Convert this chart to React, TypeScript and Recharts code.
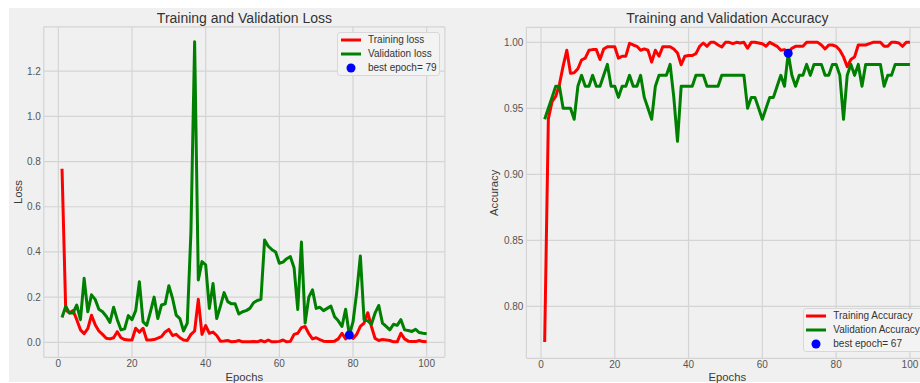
import React from 'react';
import { ComposedChart, Line, XAxis, YAxis, CartesianGrid, Legend, Label } from 'recharts';

const epochs: number[] = Array.from({ length: 100 }, (_, i) => i + 1);

const trainLoss = [
  0.768, 0.143, 0.13, 0.14, 0.1, 0.055, 0.038, 0.06, 0.12, 0.078,
  0.05, 0.035, 0.018, 0.015, 0.02, 0.047, 0.02, 0.012, 0.01, 0.01,
  0.062, 0.045, 0.062, 0.01, 0.01, 0.012, 0.018, 0.025, 0.046, 0.057,
  0.03, 0.035, 0.02, 0.01, 0.008, 0.035, 0.05, 0.19, 0.035, 0.074,
  0.04, 0.045, 0.03, 0.005, 0.006, 0.008, 0.002, 0.003, 0.008, 0.002,
  0.002, 0.002, 0.003, 0.002, 0.008, 0.002, 0.01, 0.002, 0.002, 0.004,
  0.01, 0.002, 0.004, 0.035, 0.04, 0.065, 0.07, 0.038, 0.015, 0.02,
  0.012, 0.005, 0.003, 0.003, 0.005, 0.015, 0.04, 0.015, 0.03, 0.017,
  0.035, 0.07, 0.085, 0.131, 0.07, 0.017, 0.008, 0.012, 0.01, 0.008,
  0.002, 0.002, 0.04, 0.015, 0.005, 0.003, 0.003, 0.008, 0.003, 0.002,
];

const valLoss = [
  0.11, 0.16, 0.13, 0.13, 0.165, 0.1, 0.283, 0.135, 0.21, 0.19,
  0.146, 0.135, 0.115, 0.088, 0.155, 0.1, 0.055, 0.06, 0.118, 0.1,
  0.14, 0.268, 0.09, 0.075, 0.135, 0.2, 0.105, 0.165, 0.17, 0.25,
  0.195, 0.12, 0.105, 0.05, 0.085, 0.49, 1.33, 0.276, 0.357, 0.343,
  0.15, 0.26, 0.105, 0.16, 0.22, 0.18, 0.17, 0.17, 0.125, 0.135,
  0.14, 0.15, 0.175, 0.185, 0.19, 0.453, 0.425, 0.41, 0.4, 0.35,
  0.355, 0.37, 0.379, 0.33, 0.145, 0.444, 0.085, 0.2, 0.232, 0.15,
  0.155, 0.14, 0.15, 0.16, 0.113, 0.095, 0.07, 0.146, 0.032, 0.09,
  0.22, 0.382, 0.1, 0.095, 0.08, 0.13, 0.163, 0.085, 0.07, 0.055,
  0.08, 0.075, 0.1, 0.055, 0.052, 0.048, 0.057, 0.043, 0.04, 0.038,
];

const trainAcc = [
  0.773, 0.942, 0.955, 0.959, 0.968, 0.982, 0.994, 0.9765, 0.977, 0.98,
  0.9866, 0.988, 0.994, 0.9945, 0.9945, 0.987, 0.995, 0.9967, 0.9967, 0.9967,
  0.988, 0.9895, 0.9895, 0.9992, 0.998, 0.997, 0.994, 0.995, 0.994, 0.985,
  0.994, 0.9895, 0.9967, 0.9967, 0.9967, 0.995, 0.992, 0.983, 0.9895, 0.99,
  0.99, 0.9915, 0.997, 0.9995, 0.997, 1.0, 1.0, 0.998, 0.9965, 1.0,
  1.0, 0.999, 1.0, 0.9995, 1.0, 0.9955, 1.0, 1.0, 0.9995, 0.999,
  0.997, 1.0, 0.9985, 0.997, 0.994, 0.9945, 0.992, 0.9955, 0.997, 0.997,
  0.997, 1.0, 1.0, 1.0, 1.0, 0.998, 0.995, 0.998, 0.998, 0.997,
  0.994, 0.989, 0.9815, 0.987, 0.989, 0.998, 0.998, 0.998, 0.999, 1.0,
  1.0, 1.0, 0.997, 0.997, 1.0, 1.0, 0.9995, 0.997, 1.0, 1.0,
];

const valAcc = [
  0.9417, 0.95, 0.9583, 0.9667, 0.9667, 0.95, 0.95, 0.95, 0.9417, 0.9667,
  0.975, 0.9667, 0.9667, 0.975, 0.9667, 0.9667, 0.975, 0.9833, 0.9667, 0.9667,
  0.9583, 0.9667, 0.9667, 0.975, 0.9667, 0.9667, 0.975, 0.9583, 0.95, 0.9417,
  0.9667, 0.975, 0.975, 0.975, 0.9833, 0.9583, 0.925, 0.9667, 0.9667, 0.9667,
  0.9667, 0.975, 0.975, 0.975, 0.9667, 0.9667, 0.9667, 0.9667, 0.975, 0.975,
  0.975, 0.975, 0.975, 0.975, 0.975, 0.95, 0.9583, 0.9583, 0.95, 0.9417,
  0.95, 0.9583, 0.9583, 0.9667, 0.975, 0.9667, 0.9917, 0.975, 0.9667, 0.975,
  0.975, 0.9833, 0.975, 0.9833, 0.9833, 0.9833, 0.975, 0.975, 0.9833, 0.9833,
  0.975, 0.9417, 0.975, 0.9833, 0.975, 0.9833, 0.9667, 0.9833, 0.9833, 0.9833,
  0.9833, 0.9833, 0.9667, 0.975, 0.975, 0.9833, 0.9833, 0.9833, 0.9833, 0.9833,
];

const xTicks = [0, 20, 40, 60, 80, 100];
const lossTicks = [0, 0.2, 0.4, 0.6, 0.8, 1.0, 1.2];
const accTicks = [0.8, 0.85, 0.9, 0.95, 1.0];

const lossBestEpoch = 79;
const accBestEpoch = 67;

const lossLegend = ['Training loss', 'Validation loss', `best epoch= ${lossBestEpoch}`];
const accLegend = ['Training Accuracy', 'Validation Accuracy', `best epoch= ${accBestEpoch}`];

const titles = ['Training and Validation Loss', 'Training and Validation Accuracy'];

const FONT = '"Liberation Sans", Arial, sans-serif';
const RED = '#ff0000';
const GREEN = '#008000';
const BLUE = '#0000ff';

const lossData = epochs.map((e, i) => ({
  epoch: e,
  train: trainLoss[i],
  val: valLoss[i],
  best: e === lossBestEpoch ? valLoss[i] : null,
}));
const accData = epochs.map((e, i) => ({
  epoch: e,
  train: trainAcc[i],
  val: valAcc[i],
  best: e === accBestEpoch ? valAcc[i] : null,
}));

const bestDot = (p: any) =>
  p.value != null && p.cx != null && p.cy != null ? (
    <circle key={`b${p.index}`} cx={p.cx} cy={p.cy} r={4.5} fill={BLUE} />
  ) : (
    <g key={`b${p.index}`} />
  );

const LegendBox = ({ labels, width, padLeft, gap }: { labels: string[]; width: number; padLeft: number; gap: number }) => {
  const colors = [RED, GREEN, BLUE];
  return (
    <div
      style={{
        border: '1px solid #d8d8d8',
        borderRadius: 3,
        background: '#f3f3f3',
        width,
        boxSizing: 'border-box',
        paddingLeft: padLeft,
        fontFamily: FONT,
        fontSize: 10,
        color: '#333',
        lineHeight: '14px',
      }}
    >
      {labels.map((l, i) => (
        <div key={l} style={{ display: 'flex', alignItems: 'center', height: 14, whiteSpace: 'nowrap' }}>
          <svg width={20} height={14} style={{ marginRight: gap, flexShrink: 0 }}>
            {i < 2 ? (
              <line x1={0} y1={7} x2={20} y2={7} stroke={colors[i]} strokeWidth={3} />
            ) : (
              <circle cx={10} cy={7} r={4.5} fill={BLUE} />
            )}
          </svg>
          <span>{l}</span>
        </div>
      ))}
    </div>
  );
};

const tickStyle = { fontSize: 10, fill: '#555', fontFamily: FONT };
const labelStyle = { fontSize: 11.3, fill: '#3a3a3a', fontFamily: FONT };

export default function App() {
  return (
    <div
      style={{
        position: 'absolute',
        left: 0,
        top: 0,
        width: 920,
        height: 383,
        overflow: 'hidden',
        background: '#ffffff',
        fontFamily: FONT,
      }}
    >
      <div style={{ position: 'absolute', left: 9, top: 8, width: 911, height: 374, background: '#f0f0f0' }} />

      <div style={{ position: 'absolute', left: 0, top: 0 }}>
        <ComposedChart width={460} height={383} data={lossData} margin={{ top: 26.8, right: 15.1, bottom: 0, left: 0 }}>
          <CartesianGrid stroke="#d4d4d4" strokeWidth={1.2} />
          <XAxis
            dataKey="epoch"
            type="number"
            domain={[-3.95, 104.95]}
            ticks={xTicks}
            allowDataOverflow
            axisLine={false}
            tickLine={false}
            tickSize={0}
            tickMargin={3}
            height={25.7}
            interval={0}
            tick={tickStyle}
          >
            <Label value="Epochs" position="insideBottom" offset={2} style={labelStyle} />
          </XAxis>
          <YAxis
            type="number"
            domain={[-0.0665, 1.3965]}
            ticks={lossTicks}
            allowDataOverflow
            axisLine={false}
            tickLine={false}
            tickSize={0}
            tickMargin={3}
            width={43.8}
            interval={0}
            tick={tickStyle}
            tickFormatter={(v: number) => v.toFixed(1)}
          >
            <Label value="Loss" angle={-90} position="insideLeft" offset={18} style={{ ...labelStyle, textAnchor: 'middle' }} />
          </YAxis>
          <Line type="linear" dataKey="best" stroke="none" dot={bestDot} activeDot={false} isAnimationActive={false} legendType="none" />
          <Line type="linear" dataKey="train" stroke={RED} strokeWidth={3} dot={false} activeDot={false} isAnimationActive={false} strokeLinejoin="round" />
          <Line type="linear" dataKey="val" stroke={GREEN} strokeWidth={3} dot={false} activeDot={false} isAnimationActive={false} strokeLinejoin="round" />
          <Legend
            layout="horizontal"
            verticalAlign="middle"
            align="center"
            wrapperStyle={{ left: 337, top: 32, width: 103 }}
            content={() => <LegendBox labels={lossLegend} width={103} padLeft={3} gap={7} />}
          />
        </ComposedChart>
      </div>

      <div style={{ position: 'absolute', left: 460, top: 0 }}>
        <ComposedChart width={480} height={383} data={accData} margin={{ top: 27.3, right: 11.8, bottom: 0, left: 0 }}>
          <CartesianGrid stroke="#d4d4d4" strokeWidth={1.2} />
          <XAxis
            dataKey="epoch"
            type="number"
            domain={[-3.95, 104.95]}
            ticks={xTicks}
            allowDataOverflow
            axisLine={false}
            tickLine={false}
            tickSize={0}
            tickMargin={3}
            height={24.7}
            interval={0}
            tick={tickStyle}
          >
            <Label value="Epochs" position="insideBottom" offset={2} style={labelStyle} />
          </XAxis>
          <YAxis
            type="number"
            domain={[0.7606, 1.0114]}
            ticks={accTicks}
            allowDataOverflow
            axisLine={false}
            tickLine={false}
            tickSize={0}
            tickMargin={3}
            width={66.4}
            interval={0}
            tick={tickStyle}
            tickFormatter={(v: number) => v.toFixed(2)}
          >
            <Label value="Accuracy" angle={-90} position="insideLeft" offset={34.3} style={{ ...labelStyle, textAnchor: 'middle' }} />
          </YAxis>
          <Line type="linear" dataKey="best" stroke="none" dot={bestDot} activeDot={false} isAnimationActive={false} legendType="none" />
          <Line type="linear" dataKey="train" stroke={RED} strokeWidth={3} dot={false} activeDot={false} isAnimationActive={false} strokeLinejoin="round" />
          <Line type="linear" dataKey="val" stroke={GREEN} strokeWidth={3} dot={false} activeDot={false} isAnimationActive={false} strokeLinejoin="round" />
          <Legend
            layout="horizontal"
            verticalAlign="middle"
            align="center"
            wrapperStyle={{ left: 342.7, top: 308, width: 125 }}
            content={() => <LegendBox labels={accLegend} width={125} padLeft={2.3} gap={7.3} />}
          />
        </ComposedChart>
      </div>

      <div
        style={{
          position: 'absolute',
          left: 0,
          width: 488.8,
          top: 10.6,
          textAlign: 'center',
          fontSize: 14,
          lineHeight: '14px',
          color: '#333',
          whiteSpace: 'nowrap',
        }}
      >
        {titles[0]}
      </div>
      <div
        style={{
          position: 'absolute',
          left: 460,
          width: 534.6,
          top: 10.6,
          textAlign: 'center',
          fontSize: 14,
          lineHeight: '14px',
          color: '#333',
          whiteSpace: 'nowrap',
        }}
      >
        {titles[1]}
      </div>
    </div>
  );
}
